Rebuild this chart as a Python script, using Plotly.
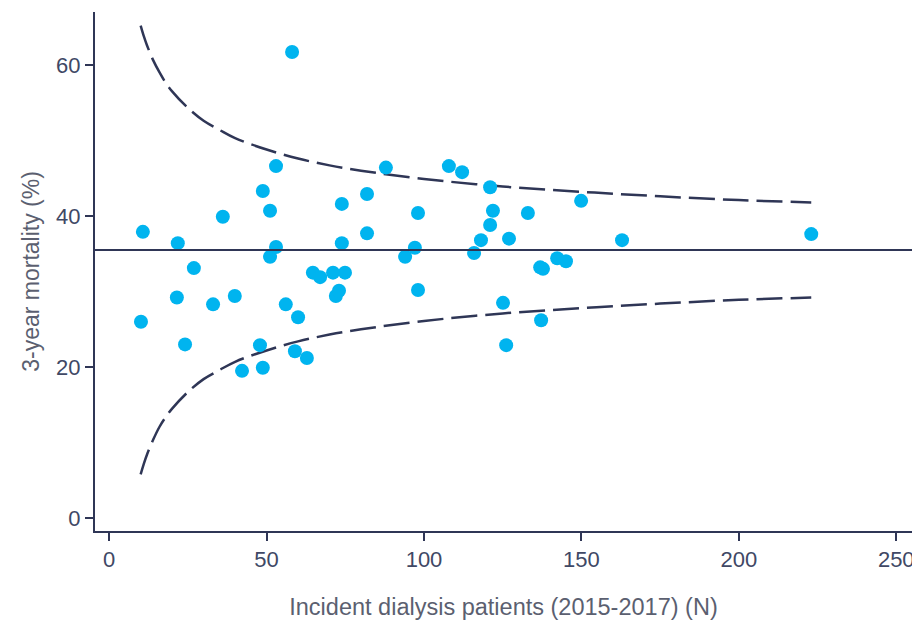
import plotly.graph_objects as go

# Units: incident dialysis patients (N) and 3-year mortality (%)
unit_n = [10.1, 10.7, 21.8, 21.5, 24.1, 26.9, 33.0, 36.1, 39.9, 42.2,
          47.9, 48.8, 48.8, 51.1, 51.1, 53.0, 53.0, 56.1, 58.1, 59.0,
          60.0, 62.8, 64.7, 67.0, 71.1, 74.9, 72.0, 73.0, 73.9, 73.9,
          81.9, 81.9, 87.9, 94.0, 97.1, 98.1, 98.1, 107.9, 112.1, 115.9,
          118.1, 121.0, 121.0, 121.9, 125.1, 126.1, 127.0, 133.0, 136.9, 137.8,
          137.2, 142.3, 145.1, 149.9, 162.9, 223.0]
unit_mortality = [26.0, 37.9, 36.4, 29.2, 23.0, 33.1, 28.3, 39.9, 29.4, 19.5,
                  22.9, 19.9, 43.3, 40.7, 34.6, 46.6, 35.9, 28.3, 61.7, 22.1,
                  26.6, 21.2, 32.5, 31.9, 32.5, 32.5, 29.4, 30.1, 36.4, 41.6,
                  37.7, 42.9, 46.4, 34.6, 35.8, 40.4, 30.2, 46.6, 45.8, 35.1,
                  36.8, 43.8, 38.8, 40.7, 28.5, 22.9, 37.0, 40.4, 33.2, 33.0,
                  26.2, 34.4, 34.0, 42.0, 36.8, 37.6]

overall_mean = 35.5

# Control limits
limit_n = [10, 11, 12, 14, 16, 18, 20, 25, 30, 35, 40, 50, 60, 70, 80,
           100, 125, 150, 175, 200, 223]
upper_limit = [65.2, 63.8, 62.6, 60.6, 59.0, 57.6, 56.5, 54.3, 52.6, 51.4,
               50.3, 48.8, 47.6, 46.7, 46.0, 44.9, 43.9, 43.2, 42.6, 42.1, 41.8]
lower_limit = [5.8, 7.2, 8.4, 10.4, 12.1, 13.4, 14.5, 16.7, 18.4, 19.6,
               20.7, 22.2, 23.4, 24.3, 25.0, 26.1, 27.1, 27.8, 28.4, 28.9, 29.2]

x_ticks = [0, 50, 100, 150, 200, 250]
y_ticks = [0, 20, 40, 60]

navy = "#2f3656"
font_family = "Liberation Sans, Arial, sans-serif"

fig = go.Figure()

for lim in (upper_limit, lower_limit):
    fig.add_trace(go.Scatter(
        x=limit_n, y=lim, mode="lines",
        line=dict(color=navy, width=2.5, dash="26px,8px", shape="spline"),
        hoverinfo="skip", showlegend=False))

fig.add_hline(y=overall_mean, line=dict(color=navy, width=2))

fig.add_trace(go.Scatter(
    x=unit_n, y=unit_mortality, mode="markers",
    marker=dict(color="#00b4ef", size=14, line=dict(width=0)),
    showlegend=False))

fig.update_layout(
    width=912, height=618,
    margin=dict(l=87, r=8, t=4, b=95),
    paper_bgcolor="white", plot_bgcolor="white",
    font=dict(family=font_family, size=22, color="#404865"),
    xaxis=dict(
        range=[-4.5, 255], tickvals=x_ticks, showgrid=False, zeroline=False,
        showline=True, linecolor=navy, linewidth=2, automargin=False,
        ticks="outside", ticklen=8, tickwidth=2, tickcolor=navy,
        tickfont=dict(size=22, color="#404865"),
        title=dict(text="Incident dialysis patients (2015-2017) (N)",
                   font=dict(size=23.5, color="#5b5f70"), standoff=27),
    ),
    yaxis=dict(
        range=[-1.7, 67.0], tickvals=y_ticks, showgrid=False, zeroline=False,
        showline=True, linecolor=navy, linewidth=2, automargin=False,
        ticks="outside", ticklen=8, tickwidth=2, tickcolor=navy,
        tickfont=dict(size=22, color="#404865"),
        title=dict(text="3-year mortality (%)",
                   font=dict(size=23, color="#5b5f70"), standoff=10),
    ),
)

fig.write_html("out.html")
